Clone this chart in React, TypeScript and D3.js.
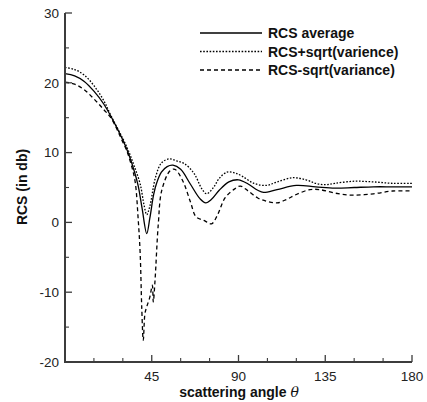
import React from 'react';
import * as d3 from 'd3';

// RCS average
const avgAngle = [0, 5, 10, 15, 20, 24, 30, 33, 36, 38, 40, 42.4, 44, 46, 47.5, 50, 53, 56, 60, 65, 70, 73, 76, 80, 85, 90, 95, 100, 103, 110, 120, 130, 140, 150, 160, 170, 180];
const avgValue = [21.3, 21.0, 20.2, 18.8, 17.0, 15.1, 11.8, 9.8, 7.3, 5.2, 2.0, -1.6, 0.6, 4.0, 5.6, 7.2, 8.0, 8.2, 7.6, 5.5, 3.4, 2.8, 3.3, 4.6, 5.8, 6.1, 5.5, 4.6, 4.3, 4.7, 5.3, 5.1, 4.9, 5.0, 5.1, 5.1, 5.1];

// RCS + sqrt(variance)
const plusAngle = [0, 5, 10, 15, 20, 24, 30, 33, 36, 39, 41, 42.4, 44, 47, 50, 54, 58, 62, 67, 71, 73.5, 77, 80, 84, 88, 92, 98, 104.6, 110, 118, 125, 130, 135, 140, 150, 160, 170, 180];
const plusValue = [22.2, 21.9, 21.1, 19.6, 17.5, 15.2, 12.0, 10.2, 8.0, 5.5, 2.5, 1.1, 2.3, 6.5, 8.5, 9.1, 8.8, 8.4, 7.0, 4.8, 4.1, 5.0, 6.3, 7.2, 7.1, 6.6, 5.6, 5.3, 5.8, 6.4, 6.1, 5.6, 5.4, 5.6, 5.9, 5.8, 5.6, 5.6];

// RCS - sqrt(variance)
const minusAngle = [0, 5, 10, 15, 20, 24, 30, 32, 34, 36.3, 38, 39, 39.8, 40.6, 41.5, 42.4, 44, 45.3, 45.8, 46.7, 48.4, 50.2, 54.5, 57, 61, 65, 68, 72, 76, 79, 83, 88, 91, 95, 100, 105, 110, 115, 120, 127, 132, 140, 149, 160, 170, 180];
const minusValue = [20.1, 19.8, 19.0, 17.7, 16.2, 14.9, 11.5, 10.3, 8.6, 6.0, 0.3, -4.5, -12.1, -16.9, -13.0, -12.1, -10.7, -9.0, -11.4, -8.3, -0.2, 4.6, 7.4, 7.6, 6.0, 3.0, 0.8, 0.3, -0.2, 1.0, 3.5, 4.8, 5.2, 4.5, 3.5, 3.0, 2.8, 3.3, 4.0, 4.7, 4.7, 4.2, 3.9, 4.1, 4.5, 4.5];

const xTicks = [45, 90, 135, 180];
const yTicks = [-20, -10, 0, 10, 20, 30];
const legendLabels = ['RCS average', 'RCS+sqrt(varience)', 'RCS-sqrt(variance)'];
const dashes = ['none', '1.6,1.6', '4,3'];

const W = 427;
const H = 402;
const font = '"Liberation Sans", Arial, Helvetica, sans-serif';
const axisColor = '#3c3c3c';

export default function App() {
  const x = d3.scaleLinear().domain([0, 180]).range([65, 412]);
  const y = d3.scaleLinear().domain([-20, 30]).range([362, 13]);

  const line = d3
    .line<[number, number]>()
    .x(d => x(d[0]))
    .y(d => y(d[1]))
    .curve(d3.curveCatmullRom.alpha(0.5));

  const series = [
    avgAngle.map((a, i) => [a, avgValue[i]] as [number, number]),
    plusAngle.map((a, i) => [a, plusValue[i]] as [number, number]),
    minusAngle.map((a, i) => [a, minusValue[i]] as [number, number]),
  ];

  const xMinor = d3.range(15, 181, 15).filter(v => !xTicks.includes(v));
  const yMinor = d3.range(-15, 30, 10);

  return (
    <div style={{ position: 'absolute', left: 0, top: 0 }}>
      <svg width={W} height={H} style={{ display: 'block', background: '#fff' }}>
        {series.map((s, i) => (
          <path
            key={i}
            d={line(s) || ''}
            fill="none"
            stroke="#000"
            strokeWidth={1.3}
            strokeDasharray={dashes[i]}
          />
        ))}

        {/* axes */}
        <line x1={x(0)} x2={x(0)} y1={y(30)} y2={y(-20)} stroke={axisColor} strokeWidth={2} />
        <line x1={x(0) - 1} x2={x(180)} y1={y(-20)} y2={y(-20)} stroke={axisColor} strokeWidth={2} />

        {yTicks.map(t => (
          <g key={t}>
            <line x1={x(0)} x2={x(0) + 7} y1={y(t)} y2={y(t)} stroke={axisColor} strokeWidth={1.3} />
            <text x={59} y={y(t)} dy="0.36em" textAnchor="end" fontFamily={font} fontSize={13.5} fill="#222">
              {t}
            </text>
          </g>
        ))}
        {yMinor.map(t => (
          <line key={t} x1={x(0)} x2={x(0) + 4} y1={y(t)} y2={y(t)} stroke={axisColor} strokeWidth={1.1} />
        ))}

        {xTicks.map(t => (
          <g key={t}>
            <line x1={x(t)} x2={x(t)} y1={y(-20)} y2={y(-20) - 7} stroke={axisColor} strokeWidth={1.3} />
            <text x={x(t)} y={381} textAnchor="middle" fontFamily={font} fontSize={13.5} fill="#222">
              {t}
            </text>
          </g>
        ))}
        {xMinor.map(t => (
          <line key={t} x1={x(t)} x2={x(t)} y1={y(-20)} y2={y(-20) - 4} stroke={axisColor} strokeWidth={1.1} />
        ))}

        {/* axis titles */}
        <text
          transform={`translate(27,${187}) rotate(-90)`}
          textAnchor="middle"
          fontFamily={font}
          fontSize={14}
          fontWeight="bold"
          fill="#111"
        >
          RCS (in db)
        </text>
        <text x={239} y={397} textAnchor="middle" fontFamily={font} fontSize={14} fontWeight="bold" fill="#111">
          scattering angle <tspan fontFamily='"DejaVu Serif", serif' fontStyle="italic" fontWeight="normal">θ</tspan>
        </text>

        {/* legend */}
        {legendLabels.map((l, i) => {
          const ly = 33 + i * 18.5;
          return (
            <g key={l}>
              <line x1={200} x2={262} y1={ly} y2={ly} stroke="#000" strokeWidth={1.3} strokeDasharray={dashes[i]} />
              <text x={268} y={ly} dy="0.36em" fontFamily={font} fontSize={14} fontWeight="bold" fill="#111">
                {l}
              </text>
            </g>
          );
        })}
      </svg>
    </div>
  );
}
